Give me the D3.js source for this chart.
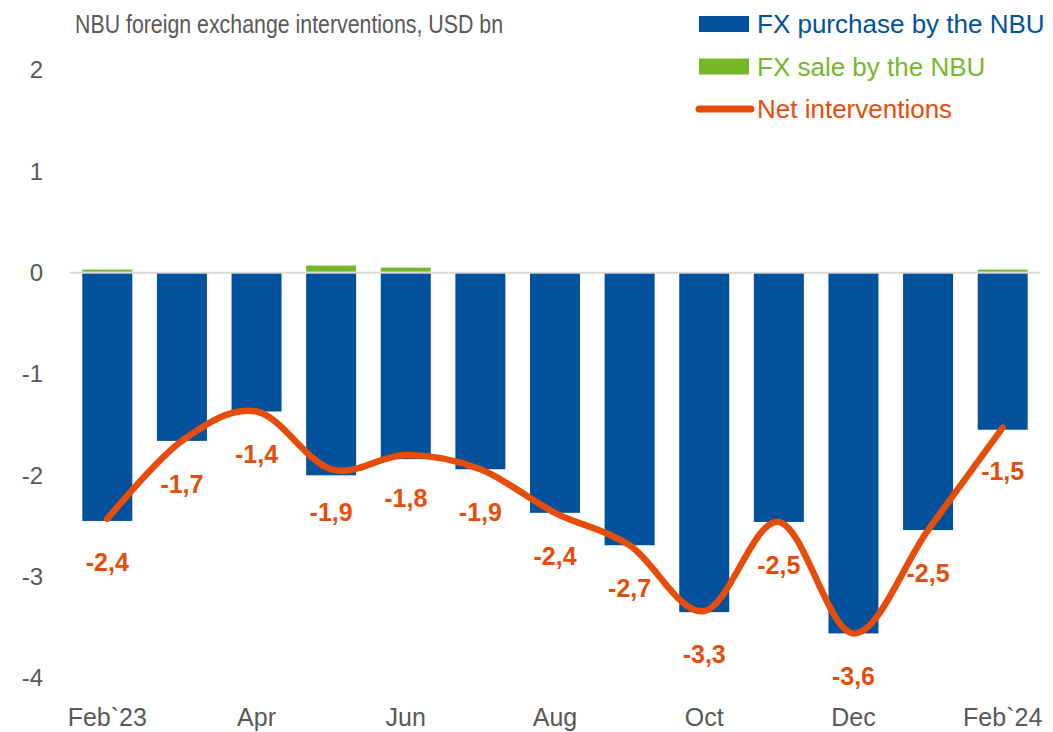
<!DOCTYPE html>
<html>
<head>
<meta charset="utf-8">
<script src="https://cdn.jsdelivr.net/npm/d3@7"></script>
<style>
  body { margin: 0; background: #fff; }
  svg { display: block; }
  .lab { font-family: "Liberation Sans", Arial, sans-serif; }
</style>
</head>
<body>
<div id="chart"></div>
<script>
// months on the x axis (every other one gets a label)
var months = ['Feb`23', 'Mar', 'Apr', 'May', 'Jun', 'Jul', 'Aug', 'Sep', 'Oct', 'Nov', 'Dec', 'Jan', 'Feb`24'];
var tickMonths = ['Feb`23', 'Apr', 'Jun', 'Aug', 'Oct', 'Dec', 'Feb`24'];
// FX purchase (negative), FX sale (positive), net, USD bn
var purchase = [-2.45, -1.66, -1.37, -2.00, -1.84, -1.94, -2.37, -2.69, -3.35, -2.46, -3.56, -2.54, -1.55];
var sale = [0.02, 0, 0, 0.06, 0.04, 0, 0, 0, 0, 0, 0, 0, 0.02];
var net = [-2.43, -1.66, -1.37, -1.94, -1.80, -1.94, -2.37, -2.69, -3.34, -2.46, -3.56, -2.54, -1.53];
var yTicks = [2, 1, 0, -1, -2, -3, -4];

var width = 1053, height = 732;
var blue = '#02519c', green = '#76b82a', orange = '#e64d0a', grey = '#595959';

var svg = d3.select('#chart').append('svg')
    .attr('width', width)
    .attr('height', height);

var x = d3.scaleBand()
    .domain(months)
    .range([70, 1040])
    .paddingInner(0.33)
    .paddingOuter(0.165);

var y = d3.scaleLinear()
    .domain([-4, 2])
    .range([678, 70]);

// title (narrow font in the original, squeeze it)
svg.append('text')
    .attr('class', 'lab')
    .attr('x', 75)
    .attr('y', 33)
    .attr('textLength', 428)
    .attr('lengthAdjust', 'spacingAndGlyphs')
    .style('font-size', '25px')
    .style('fill', grey)
    .text('NBU foreign exchange interventions, USD bn');

// y axis labels
var yAxis = d3.axisLeft(y).tickValues(yTicks).tickSize(0).tickPadding(0)
    .tickFormat(function (d) { return String(d); });
var gy = svg.append('g')
    .attr('transform', 'translate(43,0)')
    .call(yAxis);
gy.select('.domain').remove();
gy.selectAll('text')
    .attr('class', 'lab')
    .style('font-size', '24px')
    .style('fill', grey);

// zero line
svg.append('line')
    .attr('x1', 70).attr('x2', 1040)
    .attr('y1', y(0)).attr('y2', y(0))
    .style('stroke', '#d9d9d9')
    .style('stroke-width', 2);

// purchase bars
svg.append('g').selectAll('rect')
    .data(purchase)
    .join('rect')
    .attr('x', function (d, i) { return x(months[i]); })
    .attr('width', x.bandwidth())
    .attr('y', y(0) + 1)
    .attr('height', function (d) { return y(d) - y(0) - 1; })
    .style('fill', blue);

// sale bars
svg.append('g').selectAll('rect')
    .data(sale)
    .join('rect')
    .attr('x', function (d, i) { return x(months[i]); })
    .attr('width', x.bandwidth())
    .attr('y', function (d) { return y(d) - 1; })
    .attr('height', function (d) { return d > 0 ? y(0) - y(d) : 0; })
    .style('fill', green);

// net line, smoothed like Excel
var line = d3.line()
    .x(function (d, i) { return x(months[i]) + x.bandwidth() / 2; })
    .y(function (d) { return y(d); })
    .curve(d3.curveCardinal.tension(0));

svg.append('path')
    .datum(net)
    .attr('d', line)
    .style('fill', 'none')
    .style('stroke', orange)
    .style('stroke-width', 6.5)
    .style('stroke-linecap', 'round')
    .style('stroke-linejoin', 'round');

// net labels below the points
svg.append('g').selectAll('text')
    .data(net)
    .join('text')
    .attr('class', 'lab')
    .attr('x', function (d, i) { return x(months[i]) + x.bandwidth() / 2; })
    .attr('y', function (d) { return y(d) + 52; })
    .attr('text-anchor', 'middle')
    .style('font-size', '25px')
    .style('font-weight', 'bold')
    .style('fill', orange)
    .text(function (d) { return d.toFixed(1).replace('.', ','); });

// x axis labels
var xAxis = d3.axisBottom(x).tickValues(tickMonths).tickSize(0).tickPadding(0);
var gx = svg.append('g')
    .attr('transform', 'translate(0,708)')
    .call(xAxis);
gx.select('.domain').remove();
gx.selectAll('text')
    .attr('class', 'lab')
    .style('font-size', '25px')
    .style('fill', grey);

// legend
var legend = [
    { name: 'FX purchase by the NBU', color: blue, type: 'rect' },
    { name: 'FX sale by the NBU', color: green, type: 'rect' },
    { name: 'Net interventions', color: orange, type: 'line' }
];
var lg = svg.append('g').selectAll('g')
    .data(legend)
    .join('g')
    .attr('transform', function (d, i) { return 'translate(699,' + (24 + i * 42.5) + ')'; });
lg.filter(function (d) { return d.type === 'rect'; })
    .append('rect')
    .attr('x', 0).attr('y', -8)
    .attr('width', 50).attr('height', 16)
    .style('fill', function (d) { return d.color; });
lg.filter(function (d) { return d.type === 'line'; })
    .append('line')
    .attr('x1', 0).attr('x2', 52)
    .style('stroke', function (d) { return d.color; })
    .style('stroke-width', 7)
    .style('stroke-linecap', 'round');
lg.append('text')
    .attr('class', 'lab')
    .attr('x', 58)
    .attr('y', 9)
    .style('font-size', '26px')
    .style('fill', function (d) { return d.color; })
    .text(function (d) { return d.name; });
</script>
</body>
</html>
